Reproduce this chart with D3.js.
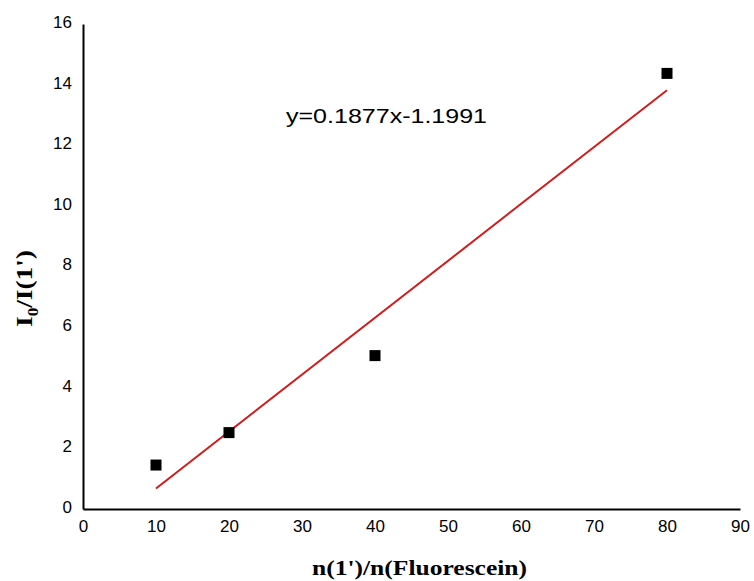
<!DOCTYPE html>
<html>
<head>
<meta charset="utf-8">
<script src="https://cdn.jsdelivr.net/npm/d3@7"></script>
<style>
  body { margin: 0; background: #fff; }
</style>
</head>
<body>
<script>
// data
var xs = [10, 20, 40, 80];
var ys = [1.45, 2.52, 5.06, 14.37];
var slope = 0.1877, intercept = -1.1991;
var xTicks = [0, 10, 20, 30, 40, 50, 60, 70, 80, 90];
var yTicks = [0, 2, 4, 6, 8, 10, 12, 14, 16];

var w = 754, h = 581;
var plotLeft = 83, plotRight = 740, plotTop = 24, plotBottom = 509;

var svg = d3.select("body").append("svg")
    .attr("width", w)
    .attr("height", h);

var xScale = d3.scaleLinear().domain([0, 90]).range([plotLeft, plotRight]);
var yScale = d3.scaleLinear().domain([0, 16]).range([plotBottom, plotTop]);

var xAxis = d3.axisBottom(xScale).tickValues(xTicks).tickSize(0).tickPadding(11);
var yAxis = d3.axisLeft(yScale).tickValues(yTicks).tickSize(0).tickPadding(11);

var gX = svg.append("g")
    .attr("transform", "translate(0," + plotBottom + ")")
    .call(xAxis);
var gY = svg.append("g")
    .attr("transform", "translate(" + plotLeft + ",0)")
    .call(yAxis);

[gX, gY].forEach(function(g) {
  g.select(".domain").attr("stroke", "#000").attr("stroke-width", 2);
  g.selectAll("text")
    .attr("fill", "#000")
    .style("font-family", "Arial, 'Liberation Sans', sans-serif")
    .style("font-size", "17px");
});
gY.selectAll("text").attr("dy", "0.2em");

// trend line
var lineData = [d3.min(xs), d3.max(xs)].map(function(x) { return [x, slope * x + intercept]; });
svg.append("path")
    .datum(lineData)
    .attr("d", d3.line()
      .x(function(d) { return xScale(d[0]); })
      .y(function(d) { return yScale(d[1]); }))
    .attr("stroke", "#d01c1c")
    .attr("stroke-width", 2)
    .attr("fill", "none");

// points
var s = 11;
svg.selectAll("rect.pt")
    .data(xs)
    .enter()
    .append("rect")
    .attr("class", "pt")
    .attr("x", function(d) { return xScale(d) - s / 2; })
    .attr("y", function(d, i) { return yScale(ys[i]) - s / 2; })
    .attr("width", s)
    .attr("height", s)
    .attr("fill", "#000");

// equation
svg.append("text")
    .attr("x", 286)
    .attr("y", 123)
    .attr("textLength", 201)
    .attr("lengthAdjust", "spacingAndGlyphs")
    .style("font-family", "Arial, 'Liberation Sans', sans-serif")
    .style("font-size", "20px")
    .text("y=" + slope + "x" + intercept);

// axis labels
svg.append("text")
    .attr("x", 312)
    .attr("y", 575)
    .attr("textLength", 215)
    .attr("lengthAdjust", "spacingAndGlyphs")
    .style("font-family", "'Times New Roman', 'Liberation Serif', serif")
    .style("font-weight", "bold")
    .style("font-size", "20px")
    .text("n(1')/n(Fluorescein)");

var yl = svg.append("text")
    .attr("transform", "translate(32,327) rotate(-90)")
    .attr("textLength", 77)
    .attr("lengthAdjust", "spacingAndGlyphs")
    .style("font-family", "'Times New Roman', 'Liberation Serif', serif")
    .style("font-weight", "bold")
    .style("font-size", "24px");
yl.append("tspan").text("I");
yl.append("tspan").attr("dy", 6).style("font-size", "15px").text("0");
yl.append("tspan").attr("dy", -6).text("/I(1')");
</script>
</body>
</html>
